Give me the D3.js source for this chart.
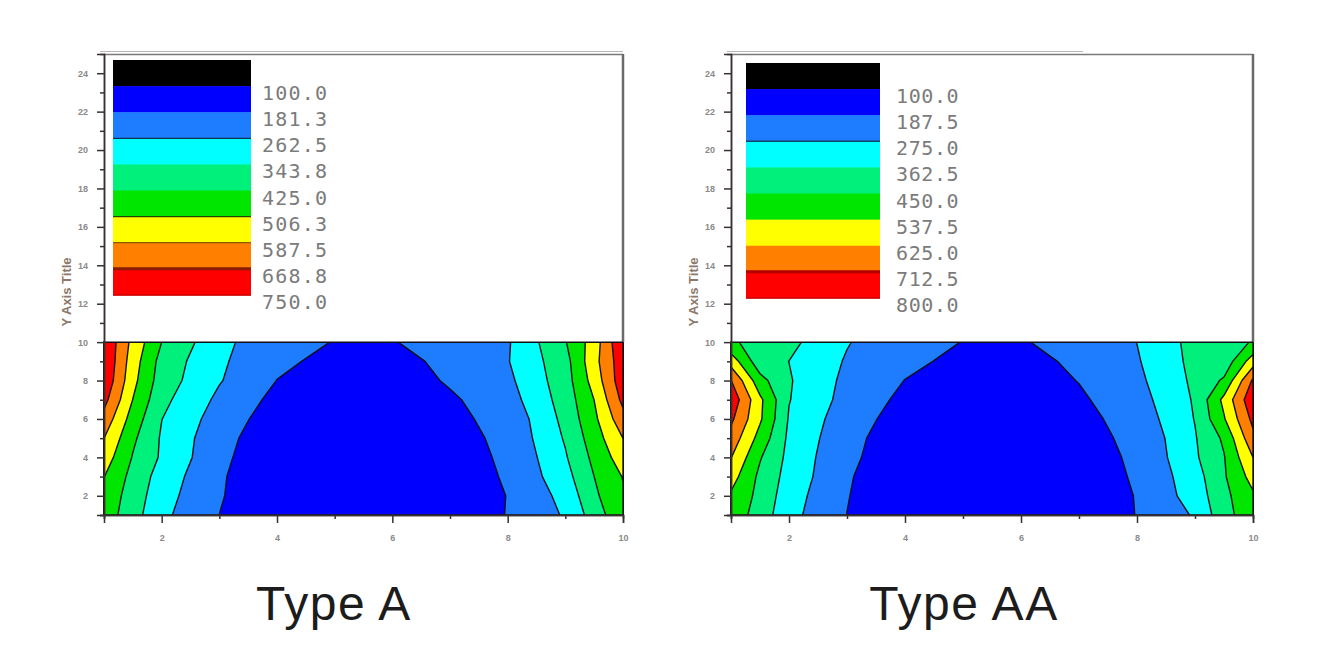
<!DOCTYPE html>
<html><head><meta charset="utf-8">
<script src="https://cdn.jsdelivr.net/npm/d3@7"></script>
<style>body{margin:0;background:#fff}svg{display:block}</style>
</head><body>
<svg id="c" width="1335" height="670"></svg>
<script>
// ---------- data ----------
const xGrid = [1, 1.5, 2, 3, 4, 5, 6, 7, 8, 9, 9.5, 10];
const yGrid = [1, 2, 3, 4, 5, 6, 7, 8, 9, 10];
// rows: y = 1 .. 10, columns: xGrid
const valuesA = [
  [470, 376, 281, 181, 145, 135, 135, 150, 183, 271, 381, 491],
  [482, 387, 295, 186, 135, 125, 128, 160, 182, 287, 410, 495],
  [508, 399, 310, 190, 123, 112, 114, 172, 183, 315, 425, 510],
  [548, 420, 333, 200, 120, 110, 112, 171, 185, 336, 445, 548],
  [588, 440, 335, 208, 129, 112, 115, 160, 195, 352, 466, 588],
  [640, 470, 345, 225, 141, 115, 118, 167, 201, 367, 488, 640],
  [695, 505, 365, 245, 159, 122, 122, 170, 226, 379, 507, 690],
  [735, 530, 385, 268, 180, 135, 140, 190, 244, 389, 539, 720],
  [745, 545, 396, 275, 200, 156, 150, 205, 258, 396, 560, 720],
  [745, 563, 425, 285, 205, 179, 178, 210, 254, 420, 545, 745]
];
const valuesAA = [
  [505, 410, 302, 187, 150, 135, 135, 150, 189, 284, 419, 505],
  [525, 424, 314, 190, 140, 125, 127, 150, 190, 313, 426, 525],
  [575, 430, 331, 195, 130, 112, 114, 165, 192, 326, 440, 570],
  [628, 457, 339, 200, 150, 112, 114, 175, 192, 350, 445, 625],
  [680, 505, 345, 213, 138, 112, 115, 169, 200, 356, 465, 690],
  [730, 550, 355, 226, 152, 118, 118, 164, 220, 366, 530, 735],
  [775, 556, 366, 245, 167, 125, 125, 175, 239, 372, 560, 780],
  [715, 480, 370, 254, 186, 145, 148, 190, 255, 380, 463, 725],
  [587, 395, 362, 267, 210, 163, 158, 205, 267, 387, 393, 583],
  [462, 420, 385, 280, 215, 186, 184, 205, 276, 391, 425, 454]
];
const levelsA = [100, 181.25, 262.5, 343.75, 425, 506.25, 587.5, 668.75, 750];
const levelsAA = [100, 187.5, 275, 362.5, 450, 537.5, 625, 712.5, 800];
const labelsA = ["100.0", "181.3", "262.5", "343.8", "425.0", "506.3", "587.5", "668.8", "750.0"];
const labelsAA = ["100.0", "187.5", "275.0", "362.5", "450.0", "537.5", "625.0", "712.5", "800.0"];
const bandColors = ["#000000", "#0000ff", "#1e7cff", "#00ffff", "#00f07c", "#00e600", "#ffff00", "#ff8000", "#ff0000"];
const yTicks = [2, 4, 6, 8, 10, 12, 14, 16, 18, 20, 22, 24];
const yMinor = [1, 3, 5, 7, 9, 11, 13, 15, 17, 19, 21, 23];
const xTicks = [2, 4, 6, 8, 10];
const xMinor = [1, 3, 5, 7, 9];
const titles = ["Type A", "Type AA"];

// ---------- drawing ----------
const svg = d3.select("#c");
const panels = [
  {values: valuesA, levels: levelsA, labels: labelsA, title: titles[0],
   x0: 104, x1: 623, barX: 113, barW: 138, barY: 60, labX: 262, titleX: 334, lsp: 1.2,
   rules: [{i: 3, c: "#113355", w: 1.2}, {i: 6, c: "#224400", w: 1.2}, {i: 7, c: "#8a5a00", w: 1.2}, {i: 8, c: "#8b1a00", w: 3}, {i: 9, c: "#cc0000", w: 1.5}],
   topLine2: 623},
  {values: valuesAA, levels: levelsAA, labels: labelsAA, title: titles[1],
   x0: 731, x1: 1253, barX: 746, barW: 134, barY: 63, labX: 896, titleX: 964, lsp: 0.6,
   rules: [{i: 3, c: "#114466", w: 1.5}, {i: 8, c: "#b00000", w: 3}, {i: 9, c: "#cc0000", w: 1.5}],
   topLine2: 1083}
];

const yTop = 54, yBot = 515;

panels.forEach(p => {
  const g = svg.append("g");
  const x = d3.scaleLinear().domain([1, 10]).range([p.x0, p.x1]);
  const y = d3.scaleLinear().domain([1, 25]).range([yBot, yTop]);
  const nx = xGrid.length, ny = yGrid.length;
  const ix = d3.scaleLinear().domain(xGrid.map((d, i) => i + 0.5)).range(xGrid).clamp(true);
  const iy = d3.scaleLinear().domain(yGrid.map((d, i) => i + 0.5)).range(yGrid).clamp(true);
  const proj = d3.geoTransform({
    point: function(cx, cy) { this.stream.point(x(ix(cx)), y(iy(cy))); }
  });
  const path = d3.geoPath(proj);
  const contours = d3.contours().size([nx, ny]).thresholds(p.levels)(p.values.flat());

  // base
  g.append("rect").attr("x", x(1)).attr("y", y(10)).attr("width", x(10) - x(1)).attr("height", y(1) - y(10))
    .attr("fill", bandColors[0]);
  g.selectAll("path.band").data(contours).join("path")
    .attr("class", "band")
    .attr("d", path)
    .attr("fill", (d, i) => bandColors[Math.min(i + 1, bandColors.length - 1)])
    .attr("stroke", "#101018").attr("stroke-width", 1.4).attr("stroke-linejoin", "round");

  // legend box (white) above y=10
  g.append("rect").attr("x", x(1)).attr("y", yTop).attr("width", x(10) - x(1)).attr("height", y(10) - yTop)
    .attr("fill", "#fff");
  // frame lines
  g.append("line").attr("x1", x(1) - 4).attr("x2", p.topLine2).attr("y1", yTop - 2.5).attr("y2", yTop - 2.5)
    .attr("stroke", "#b8b8b8").attr("stroke-width", 1.2);
  g.append("line").attr("x1", x(1)).attr("x2", x(10)).attr("y1", yTop + 0.5).attr("y2", yTop + 0.5)
    .attr("stroke", "#7a7a7a").attr("stroke-width", 1.5);
  g.append("line").attr("x1", x(10)).attr("x2", x(10)).attr("y1", yTop).attr("y2", y(10))
    .attr("stroke", "#6a6a6a").attr("stroke-width", 2.5);
  g.append("line").attr("x1", x(1)).attr("x2", x(10)).attr("y1", y(10)).attr("y2", y(10))
    .attr("stroke", "#101018").attr("stroke-width", 1.5);

  // legend colour bar
  const bandH = 26.1;
  const lb = g.append("g");
  lb.selectAll("rect").data(bandColors).join("rect")
    .attr("x", p.barX).attr("y", (d, i) => p.barY + i * bandH)
    .attr("width", p.barW).attr("height", bandH + 0.5).attr("fill", d => d);
  lb.selectAll("line").data(p.rules).join("line")
    .attr("x1", p.barX).attr("x2", p.barX + p.barW)
    .attr("y1", d => p.barY + d.i * bandH).attr("y2", d => p.barY + d.i * bandH)
    .attr("stroke", d => d.c).attr("stroke-width", d => d.w);
  lb.selectAll("text").data(p.labels).join("text")
    .attr("x", p.labX).attr("y", (d, i) => p.barY + (i + 1) * bandH + 14)
    .attr("font-family", "DejaVu Sans Mono, monospace").attr("font-size", 20)
    .attr("letter-spacing", p.lsp)
    .attr("fill", "#7b7b7b").text(d => d);

  // axes
  const yAx = g.append("g").attr("transform", `translate(${x(1)},0)`)
    .call(d3.axisLeft(y).tickValues(yTicks).tickSize(7).tickPadding(9).tickFormat(d3.format("d")));
  const yAxm = g.append("g").attr("transform", `translate(${x(1)},0)`)
    .call(d3.axisLeft(y).tickValues(yMinor).tickSize(4).tickFormat(""));
  const xAx = g.append("g").attr("transform", `translate(0,${yBot})`)
    .call(d3.axisBottom(x).tickValues(xTicks).tickSize(8).tickPadding(12).tickFormat(d3.format("d")));
  const xAxm = g.append("g").attr("transform", `translate(0,${yBot})`)
    .call(d3.axisBottom(x).tickValues(xMinor).tickSize(4).tickFormat(""));
  [yAx, yAxm, xAx, xAxm].forEach(a => {
    a.select(".domain").attr("stroke", "#3a3030").attr("stroke-width", 1.5);
    a.selectAll(".tick line").attr("stroke", "#333").attr("stroke-width", 1.5);
    a.selectAll(".tick text").attr("font-family", "Arial, Liberation Sans, sans-serif")
      .attr("font-size", 9).attr("fill", "#8a8a8a").attr("font-weight", "bold");
  });

  // axis title
  g.append("text").attr("transform", `translate(${x(1) - 33},${292}) rotate(-90)`)
    .attr("text-anchor", "middle").attr("font-family", "Arial, Liberation Sans, sans-serif")
    .attr("font-size", 13).attr("font-weight", "bold").attr("fill", "#8c7868").text("Y Axis Title");

  // panel title
  g.append("text").attr("x", p.titleX).attr("y", 620).attr("text-anchor", "middle")
    .attr("font-family", "Liberation Sans, Arial, sans-serif").attr("font-size", 48)
    .attr("letter-spacing", 1.5).attr("fill", "#1c1c1c").text(p.title);
});
</script>
</body></html>
